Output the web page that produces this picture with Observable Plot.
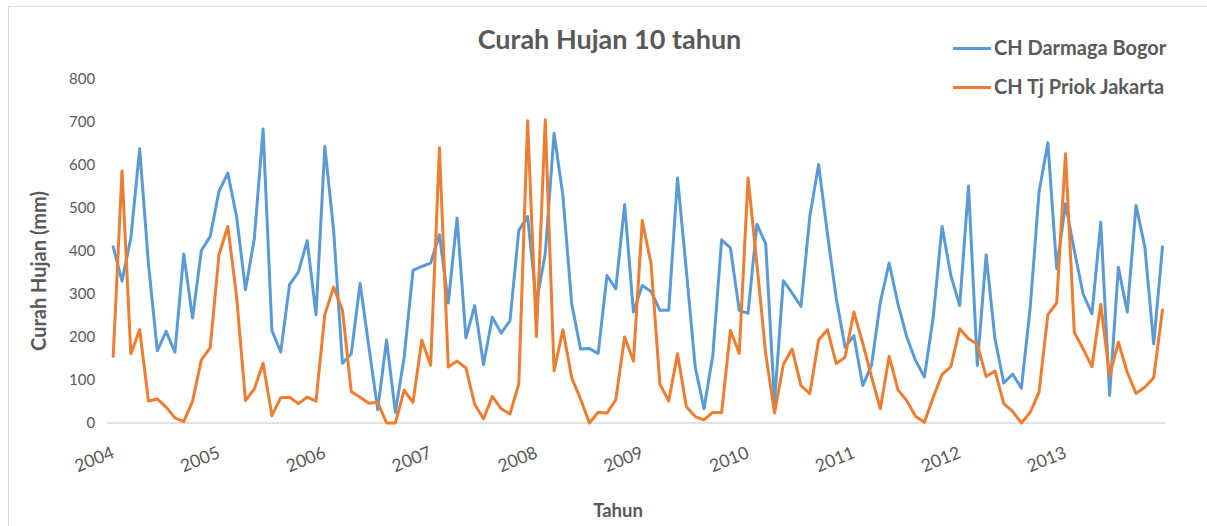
<!DOCTYPE html>
<html>
<head>
<meta charset="utf-8">
<script src="https://cdn.jsdelivr.net/npm/d3@7"></script>
<script src="https://cdn.jsdelivr.net/npm/@observablehq/plot@0.6"></script>
<style>
  html, body { margin: 0; padding: 0; background: #fff; overflow: hidden; }
  #chart { position: relative; width: 1207px; height: 526px; font-family: Lato, "Open Sans", sans-serif; color: #595959; }
  #frame { position: absolute; left: 8px; top: 6px; width: 1300px; height: 600px; border-left: 1.5px solid #d9d9d9; border-top: 1.5px solid #d9d9d9; }
  #plot { position: absolute; left: 0; top: 0; }
  .title { position: absolute; left: 0; width: 1219px; top: 22px; text-align: center; font-size: 27px; font-weight: bold; }
  .legend { position: absolute; left: 953px; font-size: 20px; font-weight: bold; white-space: nowrap; }
  .legend .sw { display: inline-block; width: 38px; height: 3px; vertical-align: middle; margin-right: 3px; position: relative; top: -1px; }
  .ytitle { position: absolute; left: 38px; top: 271px; transform: translate(-50%, -50%) rotate(-90deg); font-size: 20px; font-weight: bold; white-space: nowrap; }
  .xtitle { position: absolute; left: 618px; top: 510px; transform: translate(-50%, -50%); font-size: 18.5px; font-weight: bold; }
</style>
</head>
<body>
<div id="chart">
  <div id="frame"></div>
  <div id="plot"></div>
</div>
<script>
const years = ["2004", "2005", "2006", "2007", "2008", "2009", "2010", "2011", "2012", "2013"];
const seriesNames = ["CH Darmaga Bogor", "CH Tj Priok Jakarta"];
const seriesColors = ["#5B9BD5", "#ED7D31"];
const yTicks = [0, 100, 200, 300, 400, 500, 600, 700, 800];
const chartTitle = "Curah Hujan 10 tahun";
const yTitle = "Curah Hujan (mm)";
const xTitle = "Tahun";

// Monthly rainfall (mm), Jan 2004 – Dec 2013
const bogor = [
  410, 330, 430, 638, 370, 168, 213, 165, 393, 244, 401, 434,
  539, 581, 479, 310, 428, 684, 215, 165, 322, 351, 424, 252,
  643, 448, 139, 161, 325, 176, 31, 193, 25, 153, 355, 364,
  372, 438, 279, 477, 198, 273, 136, 246, 209, 238, 448, 480,
  280, 393, 674, 529, 277, 172, 173, 162, 343, 312, 508, 258,
  320, 306, 262, 262, 570, 355, 131, 33, 157, 426, 407, 262,
  255, 462, 417, 48, 331, 302, 271, 480, 601, 440, 290, 176,
  203, 87, 134, 281, 372, 277, 200, 145, 107, 246, 457, 343,
  273, 551, 134, 391, 196, 93, 114, 81, 269, 537, 652, 359,
  510, 401, 300, 254, 467, 64, 362, 258, 506, 409, 184, 410
];
const priok = [
  155, 586, 161, 217, 51, 56, 37, 12, 3, 51, 147, 175,
  392, 457, 293, 52, 79, 139, 17, 59, 60, 45, 60, 51,
  252, 316, 262, 73, 60, 46, 48, 0, 0, 76, 48, 193,
  134, 640, 130, 144, 128, 43, 10, 62, 33, 21, 91, 703,
  201, 705, 121, 217, 105, 56, 0, 25, 23, 54, 200, 144,
  471, 370, 90, 51, 161, 38, 15, 7, 25, 24, 215, 162,
  570, 370, 161, 23, 136, 172, 87, 68, 193, 217, 138, 153,
  258, 186, 108, 33, 155, 77, 52, 15, 2, 60, 113, 131,
  219, 196, 183, 108, 121, 45, 27, 0, 25, 72, 252, 279,
  626, 211, 172, 131, 276, 110, 188, 118, 69, 83, 105, 263
];

const data = [];
bogor.forEach((v, i) => data.push({i, v, s: seriesNames[0]}));
priok.forEach((v, i) => data.push({i, v, s: seriesNames[1]}));
const yearTickIdx = years.map((y, k) => k * 12);

const chart = Plot.plot({
  width: 1207,
  height: 526,
  marginLeft: 112.7,
  marginRight: 45,
  marginTop: 78.5,
  marginBottom: 103.5,
  style: { fontFamily: "Lato, 'Open Sans', sans-serif", color: "#595959", background: "transparent", overflow: "visible" },
  x: { domain: [0, bogor.length - 1] },
  y: { domain: [0, 800] },
  color: { domain: seriesNames, range: seriesColors },
  marks: [
    Plot.ruleY([0], { stroke: "#d9d9d9", strokeWidth: 1.3, x1: -0.6, x2: bogor.length - 0.6 }),
    Plot.axisY({ ticks: yTicks, tickSize: 0, tickPadding: 18, fontSize: 15, label: null }),
    Plot.axisX({ ticks: yearTickIdx, tickFormat: d => years[Math.round(d / 12)], tickSize: 0, tickPadding: 29, tickRotate: -22, fontSize: 17.5, label: null }),
    Plot.line(data, { x: "i", y: "v", z: "s", stroke: "s", strokeWidth: 3, strokeLinejoin: "round", strokeLinecap: "round" })
  ]
});
document.getElementById("plot").appendChild(chart);

const root = document.getElementById("chart");
const t = document.createElement("div");
t.className = "title"; t.textContent = chartTitle; root.appendChild(t);
seriesNames.forEach((name, k) => {
  const d = document.createElement("div");
  d.className = "legend";
  d.style.top = (35 + k * 39) + "px";
  const sw = document.createElement("span");
  sw.className = "sw"; sw.style.background = seriesColors[k];
  d.appendChild(sw);
  d.appendChild(document.createTextNode(name));
  root.appendChild(d);
});
const yt = document.createElement("div");
yt.className = "ytitle"; yt.textContent = yTitle; root.appendChild(yt);
const xt = document.createElement("div");
xt.className = "xtitle"; xt.textContent = xTitle; root.appendChild(xt);
</script>
</body>
</html>
